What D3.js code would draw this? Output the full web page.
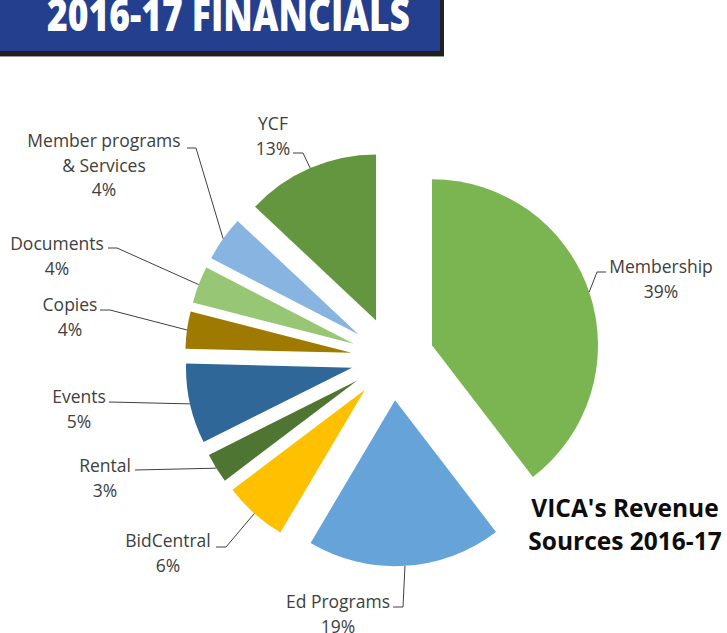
<!DOCTYPE html>
<html>
<head>
<meta charset="utf-8">
<script src="https://cdn.jsdelivr.net/npm/d3@7"></script>
<style>
  body { margin: 0; background: #fff; }
  svg { display: block; }
</style>
</head>
<body>
<script>

// slice data, clockwise from 12 o'clock
var categories = ["Membership", "Ed Programs", "BidCentral", "Rental", "Events", "Copies", "Documents", "Member programs & Services", "YCF"];
var shares = [39.6, 18.9, 6.2, 2.9, 7.8, 3.6, 3.6, 4.4, 13.0];
var pctLabels = ["39%", "19%", "6%", "3%", "5%", "4%", "4%", "4%", "13%"];
var bannerTitle = "2016-17 FINANCIALS";
var chartTitle = ["VICA's Revenue", "Sources 2016-17"];

function main() {

  var width = 727;
  var height = 633;
  var cx = 392.6, cy = 358.6;
  var radius = 166;
  var explode = 41.6;

  var colors = d3.scaleOrdinal()
    .domain(categories)
    .range(["#7ab552", "#66a3d8", "#ffc000", "#4e7532", "#2f6898", "#9e7b00", "#97c775", "#87b4e1", "#64963f"]);

  var svg = d3.select("body")
    .append("svg")
    .attr('width', width)
    .attr('height', height);

  // banner
  svg.append("rect")
    .attr('x', -5).attr('y', -5)
    .attr('width', 449).attr('height', 61)
    .attr('fill', '#231f20');
  svg.append("line")
    .attr('x1', 0).attr('x2', 444).attr('y1', 56.5).attr('y2', 56.5)
    .attr('stroke', '#9a9a9a');
  svg.append("rect")
    .attr('x', -5).attr('y', -5)
    .attr('width', 445).attr('height', 56)
    .attr('fill', '#243f8e');
  svg.append("text")
    .attr('x', 47).attr('y', 31)
    .attr('textLength', 363)
    .attr('lengthAdjust', 'spacingAndGlyphs')
    .attr('fill', '#fff')
    .style('font-family', '"Open Sans", sans-serif')
    .style('font-weight', 800)
    .style('font-size', '45px')
    .text(bannerTitle);

  var pie = d3.pie().sort(null).value(function (d) { return d; });
  var arcs = pie(shares);

  var arc = d3.arc().innerRadius(0).outerRadius(radius);
  var outer = d3.arc().innerRadius(radius + explode).outerRadius(radius + explode);

  var g = svg.append("g")
    .attr('transform', 'translate(' + cx + ',' + cy + ')');

  g.selectAll("path.slice")
    .data(arcs)
    .enter().append("path")
    .attr('class', 'slice')
    .attr('fill', function (d, i) { return colors(categories[i]); })
    .attr('transform', function (d) {
      var mid = (d.startAngle + d.endAngle) / 2;
      return 'translate(' + (explode * Math.sin(mid)) + ',' + (-explode * Math.cos(mid)) + ')';
    })
    .attr('d', arc);

  // label placement (page coords): text centre, first baseline, leader start/elbow
  var layout = [
    { x: 661, y: 273, lines: ["Membership"], lx0: 606, lx1: 597, ly: 272 },
    { x: 338, y: 608, lines: ["Ed Programs"], lx0: 393, lx1: 403, ly: 607 },
    { x: 168, y: 547, lines: ["BidCentral"], lx0: 216, lx1: 226, ly: 547 },
    { x: 105, y: 472, lines: ["Rental"], lx0: 135, lx1: 135, ly: 470 },
    { x: 79, y: 403, lines: ["Events"], lx0: 109, lx1: 109, ly: 402 },
    { x: 70, y: 311, lines: ["Copies"], lx0: 100, lx1: 110, ly: 310 },
    { x: 57, y: 250, lines: ["Documents"], lx0: 108, lx1: 117, ly: 248 },
    { x: 104, y: 147, lines: ["Member programs", "& Services"], lx0: 187, lx1: 196, ly: 148 },
    { x: 273, y: 130, lines: ["YCF"], lx0: 293, lx1: 303, ly: 153 }
  ];

  var lineH = 24.5;

  var lab = svg.selectAll("g.label")
    .data(arcs)
    .enter().append("g")
    .attr('class', 'label');

  lab.append("path")
    .attr('fill', 'none')
    .attr('stroke', '#404040')
    .attr('stroke-width', 1)
    .attr('d', function (d, i) {
      var L = layout[i];
      var p = outer.centroid(d);
      return 'M' + L.lx0 + ',' + L.ly + 'L' + L.lx1 + ',' + L.ly + 'L' + (cx + p[0]) + ',' + (cy + p[1]);
    });

  var txt = lab.append("text")
    .attr('text-anchor', 'middle')
    .attr('fill', '#404040')
    .style('font-family', '"Open Sans", sans-serif')
    .style('font-size', '17.5px');

  txt.each(function (d, i) {
    var L = layout[i];
    var t = d3.select(this);
    var rows = L.lines.concat([pctLabels[i]]);
    rows.forEach(function (r, k) {
      t.append("tspan")
        .attr('x', L.x)
        .attr('y', L.y + k * lineH)
        .text(r);
    });
  });

  // chart title
  var ct = svg.append("text")
    .attr('text-anchor', 'middle')
    .attr('fill', '#0d0d0d')
    .style('font-family', '"Open Sans", sans-serif')
    .style('font-weight', 'bold')
    .style('font-size', '24.5px');
  chartTitle.forEach(function (r, k) {
    ct.append("tspan").attr('x', 625).attr('y', 517 + k * 33).text(r);
  });
}

main();
</script>
</body>
</html>
